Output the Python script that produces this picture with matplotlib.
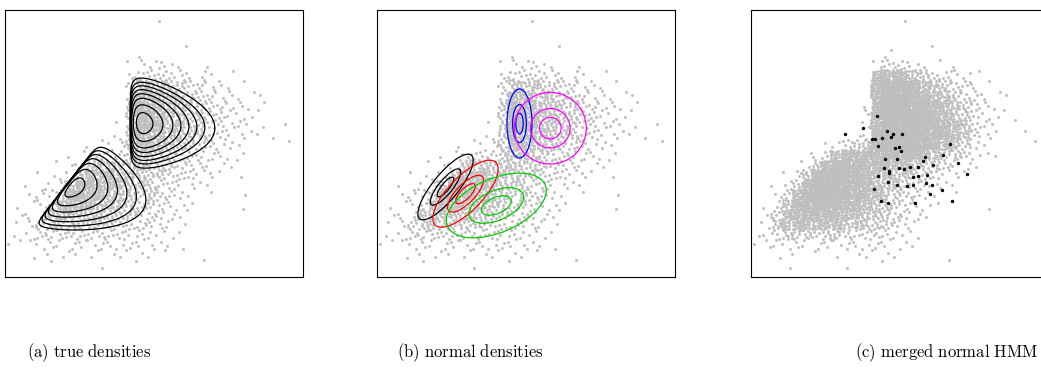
import numpy as np
import matplotlib
matplotlib.use('Agg')
import matplotlib.pyplot as plt
from matplotlib.patches import Ellipse

plt.rcParams['mathtext.fontset'] = 'cm'
plt.rcParams['contour.negative_linestyle'] = 'solid'

# grey sample, panels (a) and (b): density code per 10x10 px cell, rows from the top
cloud_ab = [
    "000000000000000000000000000000",
    "000000000000000100000000000000",
    "000000000000000000000000000000",
    "000000000000000000100000000000",
    "000000000000010000000000000000",
    "000000000000121311001000000000",
    "000000000000233332221010000000",
    "000000000000355544332211000000",
    "000000000000366554433221110000",
    "000000000000476655443322110000",
    "000000000000477655443322110000",
    "000000000001477655443322110100",
    "000000000011476655443322111000",
    "000000001112466554433221000010",
    "000000112333455443332211000000",
    "000001124554454443322111000000",
    "000111246665544433322101000000",
    "001122577665544332211000000000",
    "001224776655444332101000100000",
    "011236666555434322100001000000",
    "012255555544433321100000000000",
    "012444444443333221000000000000",
    "112333333333232211000000000000",
    "101222222222222111000000000000",
    "001011111111111100000000000000",
    "000010000100010000010000000000",
    "000000000000000000000000000000",
]

# grey sample, panel (c)
cloud_c = [
    "000000000000000000000000000000",
    "000000000000000100000000000000",
    "000000000000000000000000000000",
    "000000000000000000100000000000",
    "000000000000011000000000000000",
    "000000000000233321101000000000",
    "000000000000677654332210000000",
    "000000000000799876543321000000",
    "000000000000799987654322110000",
    "000000000001799988765432100000",
    "000000000002799998765432110000",
    "000000000002799998876532101000",
    "000000000012799998876532100100",
    "000000012345789988765421000010",
    "000000236777788876544321100000",
    "000002478887776654432210000000",
    "000125899887665544322100000000",
    "001247999887655433211000000000",
    "001368998877654332101000000000",
    "012578888776544322100001000000",
    "014677777665543321000000000000",
    "024666666555443210000000000000",
    "123444344333332210000000000000",
    "112222222222221110000000000000",
    "001010101011111000000000000000",
    "000100000100010000010000000000",
    "000000000000000000000000000000",
]
code_count = [0, 1, 2, 4, 7, 10, 15, 21, 29, 40]

# highlighted points in panel (c)
hmm_x = [126, 112.7, 94.7, 121.7, 124.7, 131.7, 136.7, 140, 142.7, 151.3, 127.7, 144.7,
         148, 150.7, 134.3, 146.3, 174.7, 172.7, 192, 199.7, 207, 216.3, 133.7, 138.3,
         138.7, 148.7, 153.3, 159.3, 167.3, 127, 162.3, 167.7, 176.7, 182.7, 137, 146.7,
         156.7, 162, 175.3, 181.3, 123, 191.3, 179.3, 130.3, 137.3, 164, 201.3]
hmm_y = [106.7, 118.3, 124.7, 129, 129.7, 128.3, 121, 127, 124.3, 124, 136.3, 138,
         137, 141, 149.7, 149, 147.7, 151.3, 145.7, 134.7, 153.7, 164.7, 158.7, 161,
         163.7, 158.7, 159, 157.7, 157, 166.7, 167, 166.3, 165, 155.7, 172.3, 175,
         176.3, 175, 173, 175, 179.3, 180.3, 184.3, 191.3, 193.3, 193, 191.3]

# true densities (panel a): skewed components, edge anchor, edge / skew direction
true_anchor_x = [125, 61.5]
true_anchor_y = [112.5, 175]
true_edge_deg = [90, 52]
true_skew_deg = [-4, -20]
true_k = [0.5, 0.5]
true_theta = [26, 16]
true_s = [23.5, 19.3]
# distance from the edge where each contour crosses the component axis
true_cross = [[23, 33, 43, 51, 59, 67, 75, 85],
              [17, 29, 40, 50, 60, 70, 80]]

# normal densities (panel b): outer ellipse of each component
norm_cx = [68.2, 88.2, 119, 142.2, 173]
norm_cy = [177.3, 184, 195.8, 113.8, 118.5]
norm_a = [41, 43.6, 53, 34.5, 36]
norm_b = [12.8, 17, 27, 12.5, 35.8]
norm_ang = [51, 46, 23, 90, 0]
norm_col = ['black', '#FF0000', '#00CD00', '#0000FF', '#FF00FF']
norm_scale = [1.0, 0.55, 0.3]

captions = [r'$\mathrm{(a)\ true\ densities}$', r'$\mathrm{(b)\ normal\ densities}$',
            r'$\mathrm{(c)\ merged\ normal\ HMM}$']
caption_x = [27, 397, 855]

W, H = 298, 267
grey = '#BEBEBE'


def cloud_points(rows):
    xs, ys = [], []
    for r, row in enumerate(rows):
        for c, ch in enumerate(row):
            n = code_count[int(ch)]
            ox = (c * 0.6180339887 + r * 0.4142135624) % 1
            oy = (c * 0.3247179572 + r * 0.7320508076) % 1
            for i in range(n):
                xs.append((c + (ox + (i + 1) * 0.7548776662) % 1) * 10)
                ys.append((r + (oy + (i + 1) * 0.5698402910) % 1) * 10)
    return np.array(xs), np.array(ys)


def skew_logdens(X, Y, j):
    ev = np.array([np.cos(np.radians(true_edge_deg[j])), -np.sin(np.radians(true_edge_deg[j]))])
    eu = np.array([np.cos(np.radians(true_skew_deg[j])), -np.sin(np.radians(true_skew_deg[j]))])
    Minv = np.linalg.inv(np.column_stack([eu, ev]))
    dx = X - true_anchor_x[j]
    dy = Y - true_anchor_y[j]
    u = Minv[0, 0] * dx + Minv[0, 1] * dy
    v = Minv[1, 0] * dx + Minv[1, 1] * dy
    k, th, s = true_k[j], true_theta[j], true_s[j]
    ld = k * np.log(np.maximum(u, 1e-9)) - u / th - v ** 2 / (2 * s ** 2)
    ld[u <= 0] = -60
    uc = np.array(true_cross[j], dtype=float)
    levels = np.sort(k * np.log(uc) - uc / th)
    return ld, levels


fig = plt.figure(figsize=(10.41, 3.72), dpi=100)
lefts = [5, 377.3, 750.7]
axes = []
for L in lefts:
    ax = fig.add_axes([L / 1041, 95.3 / 372, W / 1041, H / 372])
    ax.set_xlim(0, W)
    ax.set_ylim(H, 0)
    ax.set_xticks([])
    ax.set_yticks([])
    for sp in ax.spines.values():
        sp.set_linewidth(0.8)
        sp.set_color('black')
    axes.append(ax)

px, py = cloud_points(cloud_ab)
cx, cy = cloud_points(cloud_c)
dot = 4.5

# (a)
ax = axes[0]
ax.scatter(px, py, s=dot, c=grey, linewidths=0, zorder=1)
gx = np.arange(0, W, 0.4)
gy = np.arange(0, H, 0.4)
X, Y = np.meshgrid(gx, gy)
for j in range(2):
    ld, lev = skew_logdens(X, Y, j)
    ax.contour(X, Y, ld, levels=lev, colors='black', linewidths=0.9,
               linestyles='solid', zorder=2)

# (b)
ax = axes[1]
ax.scatter(px, py, s=dot, c=grey, linewidths=0, zorder=1)
for j in range(len(norm_cx)):
    for f in norm_scale:
        ax.add_patch(Ellipse((norm_cx[j], norm_cy[j]), 2 * norm_a[j] * f, 2 * norm_b[j] * f,
                             angle=-norm_ang[j], fill=False, edgecolor=norm_col[j],
                             linewidth=0.9, zorder=2))

# (c)
ax = axes[2]
ax.scatter(cx, cy, s=dot, c=grey, linewidths=0, zorder=1)
ax.scatter(hmm_x, hmm_y, s=6, c='black', linewidths=0, zorder=2)

for t, x in zip(captions, caption_x):
    fig.text(x / 1041, 1 - 353 / 372, t, fontsize=12, ha='left', va='center')

fig.savefig('out.png', dpi=100)
